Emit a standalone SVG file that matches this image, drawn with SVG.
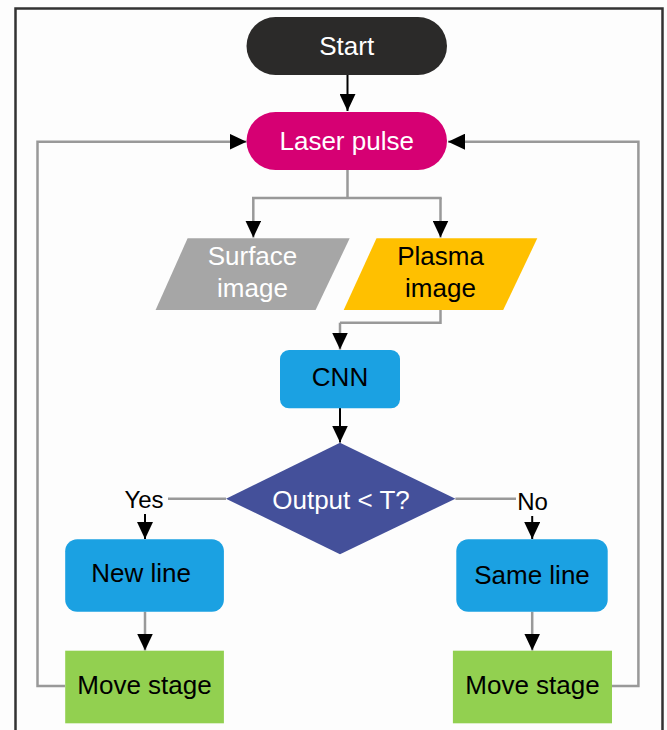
<svg xmlns="http://www.w3.org/2000/svg" width="667" height="730" viewBox="0 0 667 730">
  <style>
    .t { font-family: "Liberation Sans", Arial, sans-serif; font-size: 26px; text-anchor: middle; }
    .lbl { font-family: "Liberation Sans", Arial, sans-serif; font-size: 24px; text-anchor: middle; fill: #000; }
    .w { fill: #ffffff; }
    .k { fill: #000000; }
    .g { fill: none; stroke: #999999; stroke-width: 2.5; }
    .b { fill: none; stroke: #000000; stroke-width: 2; }
  </style>
  <defs>
    <marker id="ah" viewBox="0 0 17 16" refX="17" refY="8" markerWidth="17" markerHeight="16" markerUnits="userSpaceOnUse" orient="auto">
      <path d="M0,0 L17,8 L0,16 z" fill="#000"/>
    </marker>
  </defs>
  <rect x="0" y="0" width="667" height="730" fill="#fdfdfd"/>
  <path d="M15.5,740 V8.5 H662.5 V740" fill="none" stroke="#333333" stroke-width="2.5"/>

  <g id="connectors">
    <path class="b" d="M347.5,75 V111" marker-end="url(#ah)"/>
    <path class="g" d="M347.5,170 V198 M252,198 H441.7"/>
    <path class="g" d="M253.3,198 V237.5" marker-end="url(#ah)"/>
    <path class="g" d="M440.5,198 V237.5" marker-end="url(#ah)"/>
    <path class="g" d="M440.5,310 V322.7 H340" />
    <path class="g" d="M340,322.7 V349.5" marker-end="url(#ah)"/>
    <path class="b" d="M340,408 V442.5" marker-end="url(#ah)"/>
    <path class="g" d="M226,498.7 H168"/>
    <path class="b" d="M145,514 V539" marker-end="url(#ah)"/>
    <path class="g" d="M455.4,498.7 H516"/>
    <path class="b" d="M532.2,516 V539" marker-end="url(#ah)"/>
    <path class="g" d="M145,611.7 V650.5" marker-end="url(#ah)"/>
    <path class="g" d="M532.2,611.7 V650.5" marker-end="url(#ah)"/>
    <path class="g" d="M65,686 H37.5 V141.7 H246.5" marker-end="url(#ah)"/>
    <path class="g" d="M612,686 H638.4 V141.7 H448" marker-end="url(#ah)"/>
    <text class="lbl" x="144" y="507.5">Yes</text>
    <text class="lbl" x="532.5" y="510">No</text>
  </g>

  <g id="start">
    <rect x="246.5" y="17" width="200.5" height="58" rx="29" fill="#2b2a29"/>
    <text class="t w" x="346.7" y="55">Start</text>
  </g>
  <g id="laser">
    <rect x="246.5" y="112" width="200.5" height="58" rx="29" fill="#d60073"/>
    <text class="t w" x="346.7" y="150">Laser pulse</text>
  </g>
  <g id="surface">
    <polygon points="187.6,238.3 349.7,238.3 315.6,310 155.6,310" fill="#a6a6a6"/>
    <text class="t w" x="252.5" y="265">Surface</text>
    <text class="t w" x="252.5" y="297">image</text>
  </g>
  <g id="plasma">
    <polygon points="376.5,238.3 537.3,238.3 503.2,310 343.7,310" fill="#ffc000"/>
    <text class="t k" x="440.5" y="265">Plasma</text>
    <text class="t k" x="440.5" y="297">image</text>
  </g>
  <g id="cnn">
    <rect x="280" y="350" width="120" height="58.3" rx="9" fill="#1ba1e2"/>
    <text class="t k" x="340" y="386">CNN</text>
  </g>
  <g id="decision">
    <polygon points="340,442.7 455.4,498.7 340,554.3 226,498.7" fill="#44509a"/>
    <text class="t w" x="341" y="508.5">Output &lt; T?</text>
  </g>
  <g id="newline">
    <rect x="65.2" y="539.3" width="158.7" height="72.4" rx="12" fill="#1ba1e2"/>
    <text class="t k" x="141" y="582">New line</text>
  </g>
  <g id="sameline">
    <rect x="456.3" y="539.3" width="151.4" height="72.4" rx="12" fill="#1ba1e2"/>
    <text class="t k" x="532" y="583.5">Same line</text>
  </g>
  <g id="move1">
    <rect x="65.2" y="650.7" width="158.7" height="72.6" fill="#92d050"/>
    <text class="t k" x="144.5" y="693.5">Move stage</text>
  </g>
  <g id="move2">
    <rect x="452.9" y="650.7" width="159.1" height="72.6" fill="#92d050"/>
    <text class="t k" x="532.5" y="693.5">Move stage</text>
  </g>
</svg>
